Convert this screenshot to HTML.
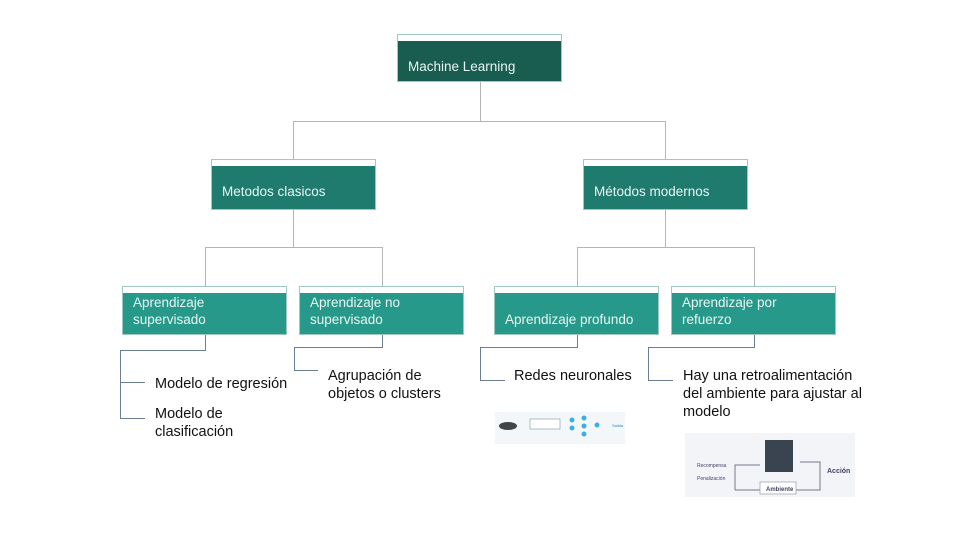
<!DOCTYPE html>
<html><head><meta charset="utf-8"><style>
body{margin:0;width:960px;height:540px;background:#fff;position:relative;overflow:hidden;font-family:"Liberation Sans",sans-serif}
.b{position:absolute;color:#e8f5f2;font-size:13.5px;box-sizing:border-box;border-top:6px solid #fff;outline:1px solid #9fc9c0;line-height:17px}
.l1{background:#195c50}.l2{background:#1f7b6e}.l3{background:#27998a}
.t{position:absolute;font-size:14.5px;color:#111;line-height:18px}
</style></head><body>
<svg width="960" height="540" style="position:absolute;left:0;top:0" fill="none" stroke="#b5b5b5" stroke-width="1">
<path d="M480.5 81V121.5M293.5 121.5H665.5M293.5 121V160M665.5 121V160"/>
<path d="M293.5 209V247.5M205.5 247.5H382.5M205.5 247V287M382.5 247V287"/>
<path d="M665.5 209V247.5M577.5 247.5H754.5M577.5 247V287M754.5 247V287"/>
<g stroke="#6a7f96">
<path d="M205.5 334V350.5H120.5V418.5H145M120.5 382.5H145"/>
<path d="M382.5 334V347.5H294.5V370.5H318"/>
<path d="M577.5 334V347.5H480.5V380.5H505"/>
<path d="M754.5 334V347.5H648.5V380.5H673"/>
</g>
</svg>
<div class="b l1" style="left:398px;top:35px;width:163px;height:46px;padding:17px 0 0 10px">Machine Learning</div>
<div class="b l2" style="left:212px;top:160px;width:163px;height:49px;padding:17px 0 0 10px">Metodos clasicos</div>
<div class="b l2" style="left:584px;top:160px;width:163px;height:49px;padding:17px 0 0 10px">Métodos modernos</div>
<div class="b l3" style="left:123px;top:287px;width:163px;height:47px;padding:1px 0 0 10px">Aprendizaje<br>supervisado</div>
<div class="b l3" style="left:300px;top:287px;width:163px;height:47px;padding:1px 0 0 10px">Aprendizaje no<br>supervisado</div>
<div class="b l3" style="left:495px;top:287px;width:163px;height:47px;padding:18px 0 0 10px">Aprendizaje profundo</div>
<div class="b l3" style="left:672px;top:287px;width:163px;height:47px;padding:1px 0 0 10px">Aprendizaje por<br>refuerzo</div>
<div class="t" style="left:155px;top:375px">Modelo de regresión</div>
<div class="t" style="left:155px;top:405px">Modelo de<br>clasificación</div>
<div class="t" style="left:328px;top:367px">Agrupación de<br>objetos o clusters</div>
<div class="t" style="left:514px;top:367px">Redes neuronales</div>
<div class="t" style="left:683px;top:367px">Hay una retroalimentación<br>del ambiente para ajustar al<br>modelo</div>
<svg width="960" height="540" style="position:absolute;left:0;top:0">
<rect x="495" y="412" width="130" height="32" fill="#f4f7fa"/>
<ellipse cx="508" cy="426" rx="9" ry="4" fill="#444"/>
<rect x="530" y="419" width="30" height="10" fill="#fff" stroke="#8aa" stroke-width="0.7"/>
<g fill="#3bb0e0"><circle cx="572" cy="420" r="2.5"/><circle cx="572" cy="428" r="2.5"/><circle cx="584" cy="418" r="2.5"/><circle cx="584" cy="426" r="2.5"/><circle cx="584" cy="434" r="2.5"/><circle cx="597" cy="425" r="2.5"/></g>
<text x="612" y="427" font-size="4" fill="#38a" font-family="Liberation Sans">Salida</text>
<rect x="685" y="433" width="170" height="64" fill="#f3f4f8"/>
<rect x="765" y="440" width="28" height="32" fill="#3a4450"/>
<path d="M735 490V465H760M800 462H820V490H795M735 490H760" stroke="#778" fill="none"/>
<rect x="760" y="482" width="36" height="12" fill="#fff" stroke="#99a" stroke-width="0.7"/>
<text x="766" y="491" font-size="6" fill="#446" font-weight="bold" font-family="Liberation Sans">Ambiente</text>
<text x="827" y="473" font-size="7" fill="#446" font-weight="bold" font-family="Liberation Sans">Acción</text>
<text x="697" y="467" font-size="5" fill="#446" font-family="Liberation Sans">Recompensa</text>
<text x="697" y="480" font-size="5" fill="#446" font-family="Liberation Sans">Penalización</text>
</svg>
</body></html>
